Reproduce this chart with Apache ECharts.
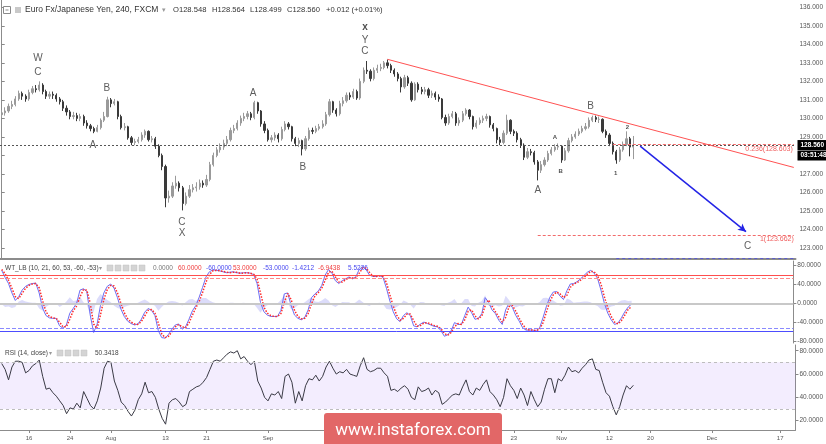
<!DOCTYPE html>
<html><head><meta charset="utf-8">
<script src="https://cdn.jsdelivr.net/npm/echarts@6/dist/echarts.min.js"></script>
<style>html,body{margin:0;padding:0;background:#fff}#c{width:826px;height:444px}</style>
</head><body><div id="c"></div>
<script>
// ---------- DATA ----------
// x axis: 12-hour slots over trading days (Mon-Fri), 2018-07-10 .. 2018-12-19
const slotStart = '2018-07-10', slotCount = 233;
// date tick labels (TradingView style)
const dateTicks = {'2018-07-16':'16','2018-07-24':'24','2018-08-01':'Aug','2018-08-13':'13','2018-08-21':'21',
  '2018-09-03':'Sep','2018-09-17':'17','2018-10-01':'Oct','2018-10-15':'15','2018-10-23':'23','2018-11-01':'Nov',
  '2018-11-12':'12','2018-11-20':'20','2018-12-03':'Dec','2018-12-17':'17'};
const priceTicks = [123,124,125,126,127,128,129,130,131,132,133,134,135,136];
const wtTicks = [-80,-40,0,40,80];
const rsiTicks = [20,40,60,80];

// EUR/JPY 12h bars
const firstOpen = 130.20;
const close = [
130.30,130.40,130.65,130.75,131.05,131.35,131.20,131.05,131.40,131.60,
131.55,131.80,131.45,131.20,131.30,131.25,131.05,130.90,130.55,130.35,
130.10,130.15,130.00,130.10,129.75,129.60,129.45,129.30,129.50,129.90,
130.10,131.00,130.80,130.90,130.10,129.50,129.55,128.95,128.70,128.75,
128.85,129.10,129.30,128.85,128.90,128.50,128.00,127.40,125.70,125.80,
126.35,126.50,126.25,125.40,125.80,126.15,126.25,126.30,126.50,126.40,
126.70,127.50,128.00,128.30,128.45,128.65,128.85,129.35,129.45,129.75,
130.00,130.10,130.25,130.05,130.85,130.40,129.70,129.35,128.85,128.95,
129.10,128.90,129.40,129.70,129.55,128.90,128.65,128.80,128.35,128.90,
129.35,129.30,129.45,129.55,129.70,130.20,130.90,130.45,130.25,130.80,
130.95,131.25,131.15,131.45,131.10,132.00,132.60,132.55,132.15,132.60,
132.70,132.75,133.00,132.85,132.60,132.40,132.15,131.70,132.20,131.90,
131.00,131.85,131.55,131.45,131.55,131.25,131.35,131.15,131.05,130.05,
129.75,130.10,130.25,129.75,129.90,130.25,130.45,130.10,129.55,129.75,
129.90,130.00,130.10,129.65,129.45,128.85,128.70,129.20,129.90,129.30,
129.20,128.85,128.55,127.90,128.20,128.15,127.65,127.20,127.50,127.75,
128.10,128.30,128.45,128.50,127.75,128.25,128.80,129.00,129.15,129.30,
129.45,129.55,129.90,130.05,129.95,129.95,129.30,129.10,128.65,128.20,
127.75,128.30,128.60,128.90,128.45,128.56];
const high = [
130.45,130.60,130.80,130.95,131.20,131.50,131.45,131.30,131.55,131.75,
131.80,132.00,131.90,131.55,131.45,131.45,131.35,131.15,131.00,130.70,
130.45,130.35,130.30,130.25,130.20,129.90,129.70,129.55,129.65,130.00,
130.35,131.17,131.10,131.05,130.95,130.20,129.75,129.60,129.05,128.90,
129.00,129.25,129.40,129.35,129.05,129.00,128.60,128.10,127.50,126.10,
126.55,126.90,126.60,126.35,126.00,126.40,126.45,126.55,126.70,126.65,
126.95,127.65,128.15,128.45,128.65,128.85,129.05,129.50,129.65,129.90,
130.15,130.30,130.40,130.35,130.95,130.90,130.45,129.85,129.45,129.10,
129.25,129.20,129.55,129.85,129.80,129.60,129.00,128.95,128.85,129.05,
129.50,129.50,129.60,129.70,129.90,130.35,131.05,130.95,130.55,130.95,
131.15,131.40,131.40,131.60,131.55,132.15,132.75,133.10,132.65,132.75,
132.90,132.95,133.10,133.18,132.95,132.70,132.50,132.25,132.35,132.30,
132.00,131.95,131.95,131.70,131.70,131.65,131.50,131.45,131.30,131.10,
130.20,130.25,130.40,130.35,130.05,130.40,130.55,130.50,130.15,129.90,
130.05,130.15,130.25,130.15,129.75,129.50,129.00,129.35,130.20,129.95,
129.40,129.30,128.95,128.65,128.40,128.35,128.25,127.75,127.70,127.90,
128.25,128.45,128.60,128.65,128.55,128.40,128.95,129.15,129.30,129.45,
129.60,129.75,130.05,130.15,130.15,130.10,130.00,129.40,129.20,128.75,
128.30,128.45,128.75,129.30,129.00,129.05];
const low = [
130.05,130.15,130.30,130.50,130.65,130.95,131.00,130.90,130.95,131.30,
131.40,131.45,131.30,131.05,131.05,131.05,130.90,130.75,130.40,130.15,
129.95,129.95,129.85,129.85,129.60,129.45,129.30,129.20,129.25,129.40,
129.80,130.05,130.60,130.70,129.95,129.40,129.35,128.85,128.55,128.55,
128.65,128.75,128.95,128.75,128.70,128.35,127.90,127.20,125.20,125.45,
125.70,126.20,126.05,125.03,125.30,125.70,126.00,126.05,126.15,126.25,
126.30,126.60,127.40,127.90,128.15,128.30,128.50,128.75,129.20,129.35,
129.60,129.85,129.95,129.90,129.95,130.25,129.55,129.20,128.75,128.70,
128.80,128.70,128.80,129.30,129.40,128.75,128.50,128.45,128.00,128.25,
128.80,129.15,129.20,129.35,129.45,129.60,130.10,130.30,130.10,130.15,
130.65,130.85,131.00,131.05,131.00,131.00,131.90,132.40,132.00,132.05,
132.45,132.55,132.65,132.70,132.45,132.25,132.00,131.40,131.60,131.75,
130.90,130.95,131.40,131.30,131.30,131.10,131.10,131.00,130.90,129.95,
129.60,129.65,130.00,129.60,129.60,129.80,130.15,129.95,129.40,129.45,
129.65,129.75,129.85,129.50,129.30,128.65,128.55,128.60,129.10,129.15,
129.05,128.70,128.40,127.75,127.80,128.00,127.50,126.65,127.05,127.40,
127.65,128.00,128.20,128.30,127.60,127.70,128.15,128.70,128.90,129.05,
129.20,129.35,129.45,129.80,129.80,129.75,129.20,128.95,128.50,128.05,
127.55,127.65,128.20,128.50,127.95,127.80];

// WT_LB indicator (wt1 blue, wt2 red dotted, wt1-wt2 histogram)
const wt1 = [
70,55,42,22,6,14,28,36,40,42,
43,22,-10,-26,-31,-32,-32,-48,-53,-46,
-21,-11,0,28,31,25,-25,-62,-45,-5,
22,36,41,32,12,-12,-28,-38,-43,-46,
-44,-34,-19,-11,-15,-26,-58,-73,-74,-66,
-55,-46,-44,-55,-50,-34,-16,-5,13,34,
56,67,71,70,69,67,65,66,67,65,
64,65,65,64,61,42,2,-18,-25,-28,
-28,-28,-15,20,22,-5,-25,-32,-35,-30,
-14,12,20,26,38,60,72,64,48,42,
48,52,56,52,56,72,78,72,60,57,
57,59,55,32,5,-18,-33,-39,-26,-20,
-26,-48,-50,-44,-40,-43,-46,-49,-50,-58,
-70,-67,-58,-41,-45,-45,-26,-8,-20,-34,
-32,-22,12,2,-14,-22,-36,-45,-14,0,
-9,-26,-38,-52,-57,-57,-57,-59,-52,-30,
-6,13,24,25,15,8,27,41,42,46,
52,59,66,70,64,53,28,0,-21,-35,
-45,-42,-31,-18,-8,-1.4212];
const wt2 = [
72,63,49,32,14,10,21,32,38,41,
42,33,6,-18,-28,-31,-32,-40,-50,-50,
-34,-16,-6,14,29,28,0,-44,-54,-25,
8,29,38,37,22,0,-20,-33,-40,-44,
-45,-39,-27,-15,-13,-21,-42,-65,-73,-70,
-60,-50,-45,-50,-52,-42,-25,-10,4,23,
45,61,69,70,69,68,66,65,66,66,
64,64,65,64,62,52,22,-8,-21,-26,
-28,-28,-22,2,21,8,-15,-28,-33,-32,
-22,-1,16,23,32,49,66,68,56,45,
45,50,54,54,54,64,75,75,66,58,
57,58,57,44,18,-6,-25,-36,-32,-23,
-23,-37,-49,-47,-42,-41,-44,-47,-49,-54,
-64,-68,-62,-50,-43,-45,-35,-17,-14,-27,
-33,-27,-5,7,-6,-18,-29,-40,-30,-7,
-5,-17,-32,-45,-54,-57,-57,-58,-55,-41,
-18,4,18,24,20,12,17,34,41,44,
49,55,62,68,67,59,41,14,-10,-28,
-40,-44,-37,-25,-13,-6.9438];
const wtDiff = [
-2,-8,-7,-10,-8,4,7,4,2,1,
1,-11,-16,-8,-3,-1,0,-8,-3,4,
13,5,6,14,2,-3,-25,-18,9,20,
14,7,3,-5,-10,-12,-8,-5,-3,-2,
1,5,8,4,-2,-5,-16,-8,-1,4,
5,4,1,-5,2,8,9,5,9,11,
11,6,2,0,0,-1,-1,1,1,-1,
0,1,0,0,-1,-10,-20,-10,-4,-2,
0,0,7,18,1,-13,-10,-4,-2,2,
8,13,4,3,6,11,6,-4,-8,-3,
3,2,2,-2,2,8,3,-3,-6,-1,
0,1,-2,-12,-13,-12,-8,-3,6,3,
-3,-11,-1,3,2,-2,-2,-2,-1,-4,
-6,1,4,9,-2,0,9,9,-6,-7,
1,5,17,-5,-8,-4,-7,-5,16,7,
-4,-9,-6,-7,-3,0,0,-1,3,11,
12,9,6,1,-5,-4,10,7,1,2,
3,4,4,2,-3,-6,-13,-14,-11,-7,
-5,2,6,7,5,5.5226];

// RSI(14, close)
const rsi = [
69,64,55,66,71,71,70,61,63,67,
69,72,58,47,48,44,41,37,33,26,
31,30,35,31,45,39,33,30,37,48,
65,71,70,54,46,36,33,28,24,29,
38,43,53,44,45,40,30,22,17,35,
38,39,36,32,34,45,47,49,50,53,
57,64,71,72,71,74,77,79,78,80,
73,75,71,68,71,54,48,40,37,43,
42,45,39,58,60,53,35,45,37,50,
56,55,59,54,58,66,71,65,60,62,
61,64,60,59,58,67,74,64,62,63,
65,65,61,58,46,47,45,48,50,47,
40,38,49,45,46,48,42,46,44,34,
36,39,42,43,42,49,55,45,42,48,
46,51,55,45,42,38,32,40,56,50,
46,39,48,42,33,45,38,32,36,47,
56,56,44,56,54,59,66,62,63,61,
65,68,72,73,64,63,53,44,41,32,
25,32,42,50,47,50.3418];

// Elliott wave annotations (slot index, price)
const waveText   = ['W','C','B','A','C','X','A','B','x','Y','C','A','A','B','B','1','2','C'];
const waveDegree = ['M','M','M','M','M','M','M','M','H','M','M','M','m','m','M','m','m','M'];
const waveSlot   = [10.6,10.6,30.8,26.7,52.8,52.8,73.6,88.2,106.4,106.4,106.4,157,162,163.7,172.5,179.8,183.3,218.5];
const wavePrice  = [133.26,132.51,131.64,128.56,124.40,123.81,131.37,127.37,134.94,134.23,133.64,126.13,129.00,127.16,130.67,127.05,129.53,123.11];

// drawn tools
const lastPrice = 128.56, timerLevel = 128.0;
const trendLine = [[113,133.19],[232,127.35]];
const arrowLine = [[187,128.50],[218,123.88]];
const fib236 = {from:179, to:232, price:128.603, text:'0.236(128.603)'};
const fib1 = {from:157, to:232, price:123.662, text:'1(123.662)'};
const lowerLevel = {from:180, to:232, price:122.43};

// ---------- BUILD ----------
function buildSlots(){
  const out=[]; let t=Date.UTC(2018,6,10);
  while(out.length<slotCount){
    const d=new Date(t), wd=d.getUTCDay();
    if(wd>0&&wd<6){const s=d.toISOString().slice(0,10); out.push(s+' 00'); out.push(s+' 12');}
    t+=86400000;
  }
  return out.slice(0,slotCount);
}
const slots = buildSlots();
const isTick = (i,v)=> v.endsWith(' 00') && dateTicks[v.slice(0,10)]!==undefined;
const ohlc = close.map((c,i)=>[i===0?firstOpen:close[i-1], c, low[i], high[i]]);

const axisFont = {fontFamily:'Liberation Sans', fontSize:6.5, color:'#555'};
const sepLine = {show:true, lineStyle:{color:'#8c8c8c', width:2}};

const degreeStyle = {
  M:{fontSize:10, fontWeight:'normal', color:'#333'},
  m:{fontSize:6, fontWeight:'bold', color:'#222'},
  H:{fontSize:10, fontWeight:'bold', color:'#222'}
};
const waveData = waveText.map((t,i)=>({value:[waveSlot[i], wavePrice[i]], name:t,
  label:Object.assign({show:true, formatter:t, position:'inside', fontFamily:'Liberation Sans'}, degreeStyle[waveDegree[i]])}));

const chart = echarts.init(document.getElementById('c'), null, {renderer:'canvas'});
const hdrFont = '8.5px "Liberation Sans"';
const ohlcFont = '7.6px "Liberation Sans"';
const indFont = '6.5px "Liberation Sans"';
function txt(x,y,text,fill,font){return {type:'text', x:x, y:y, z:50, style:{text:text, fill:fill, font:font||indFont, verticalAlign:'middle'}};}
function icon(x,y){return {type:'rect', z:50, shape:{x:x,y:y,width:6,height:6}, style:{fill:'#d4d4d4', stroke:'#c0c0c0', lineWidth:0.5}};}
const boxLabel = {show:true, position:'end', distance:2, backgroundColor:'#000', color:'#fff',
  fontFamily:'Liberation Sans', fontSize:6.5, fontWeight:'bold', padding:[2,3,1,3]};

chart.setOption({
  animation:false,
  backgroundColor:'#fff',
  grid:[
    {left:0, top:0, width:796, height:259},
    {left:0, top:261, width:796, height:82},
    {left:0, top:345, width:796, height:85}
  ],
  xAxis:[
    {type:'category', gridIndex:0, data:slots, boundaryGap:true, axisLine:sepLine, axisTick:{show:false}, axisLabel:{show:false}, splitLine:{show:false}},
    {type:'value', gridIndex:0, min:-0.5, max:slotCount-0.5, show:false},
    {type:'category', gridIndex:1, data:slots, boundaryGap:true, axisLine:sepLine, axisTick:{show:false}, axisLabel:{show:false}, splitLine:{show:false}},
    {type:'category', gridIndex:2, data:slots, boundaryGap:true,
      axisLine:{show:true, lineStyle:{color:'#8c8c8c', width:1}},
      axisTick:{show:true, interval:isTick, alignWithLabel:true, length:3, lineStyle:{color:'#888'}},
      axisLabel:Object.assign({interval:isTick, formatter:(v)=>dateTicks[v.slice(0,10)]||'', margin:5}, axisFont, {fontSize:6}),
      splitLine:{show:false}}
  ],
  yAxis:[
    {type:'value', gridIndex:0, position:'right', min:122.405, max:136.394,
      axisLine:{show:true, lineStyle:{color:'#8c8c8c'}}, axisTick:{show:true, length:3, customValues:priceTicks, lineStyle:{color:'#888'}},
      axisLabel:Object.assign({customValues:priceTicks, formatter:v=>v.toFixed(3), margin:4}, axisFont), splitLine:{show:false}},
    {type:'value', gridIndex:1, position:'right', min:-84.4, max:89.9,
      axisLine:{show:true, lineStyle:{color:'#8c8c8c'}}, axisTick:{show:true, length:3, customValues:wtTicks, lineStyle:{color:'#888'}},
      axisLabel:Object.assign({customValues:wtTicks, formatter:v=>v.toFixed(4), margin:4}, axisFont), splitLine:{show:false}},
    {type:'value', gridIndex:2, position:'right', min:12.03, max:84.89,
      axisLine:{show:true, lineStyle:{color:'#8c8c8c'}}, axisTick:{show:true, length:3, customValues:rsiTicks, lineStyle:{color:'#888'}},
      axisLabel:Object.assign({customValues:rsiTicks, formatter:v=>v.toFixed(4), margin:4}, axisFont), splitLine:{show:false}}
  ],
  series:[
    {type:'candlestick', xAxisIndex:0, yAxisIndex:0, data:ohlc, barMaxWidth:2,
      itemStyle:{color:'#9a9a9a', color0:'#3a3a3a', borderColor:'#9a9a9a', borderColor0:'#3a3a3a', borderWidth:1},
      markLine:{silent:true, symbol:'none', animation:false, label:{show:false},
        data:[
          {yAxis:lastPrice, lineStyle:{color:'#555', type:[2,2], width:1},
            label:Object.assign({formatter:lastPrice.toFixed(3)}, boxLabel)},
          {yAxis:timerLevel, lineStyle:{color:'rgba(0,0,0,0)', width:0.1},
            label:Object.assign({formatter:'03:51:48'}, boxLabel)},
          [{coord:[fib236.from,fib236.price], lineStyle:{color:'#f26b6b', type:[3,2], width:1},
            label:{show:true, position:'insideEndBottom', formatter:fib236.text, color:'#f06060', fontFamily:'Liberation Sans', fontSize:7, distance:1}},
           {coord:[fib236.to,fib236.price]}],
          [{coord:[fib1.from,fib1.price], lineStyle:{color:'#f26b6b', type:[3,2], width:1},
            label:{show:true, position:'insideEndBottom', formatter:fib1.text, color:'#f06060', fontFamily:'Liberation Sans', fontSize:7, distance:0}},
           {coord:[fib1.to,fib1.price]}],
          [{coord:trendLine[0], lineStyle:{color:'#ff5252', type:'solid', width:1}}, {coord:trendLine[1]}],
          [{coord:arrowLine[0], lineStyle:{color:'#2323e6', type:'solid', width:1.5}}, {coord:arrowLine[1], symbol:'arrow', symbolSize:[6,8]}],
          [{coord:[lowerLevel.from,lowerLevel.price], lineStyle:{color:'#5b5bcf', type:[3,3], width:1}}, {coord:[lowerLevel.to,lowerLevel.price]}]
        ]}
    },
    {type:'scatter', xAxisIndex:1, yAxisIndex:0, symbolSize:0, data:waveData, silent:true, z:5},
    {type:'line', xAxisIndex:2, yAxisIndex:1, data:wtDiff, symbol:'none', lineStyle:{width:0},
      areaStyle:{color:'rgba(110,110,235,0.35)', origin:0}, z:1},
    {type:'line', xAxisIndex:2, yAxisIndex:1, data:wt1, symbol:'none', lineStyle:{color:'#6e6ef5', width:1}, z:3,
      markLine:{silent:true, symbol:'none', label:{show:false}, animation:false,
        data:[
          {yAxis:60, lineStyle:{color:'#ff4d4d', type:'solid', width:1}},
          {yAxis:53, lineStyle:{color:'#ff8a8a', type:[4,2], width:1}},
          {yAxis:0, lineStyle:{color:'#c8c8c8', type:'solid', width:2}},
          {yAxis:-53, lineStyle:{color:'#8a8aff', type:[4,2], width:1}},
          {yAxis:-60, lineStyle:{color:'#4d4dff', type:'solid', width:1}}
        ]}},
    {type:'line', xAxisIndex:2, yAxisIndex:1, data:wt2, symbol:'none', lineStyle:{color:'#ff2b2b', type:'dotted', width:1.5}, z:4},
    {type:'line', xAxisIndex:3, yAxisIndex:2, data:rsi, symbol:'none', lineStyle:{color:'#3a3a45', width:1}, z:3,
      markArea:{silent:true, itemStyle:{color:'rgba(160,110,245,0.12)'}, data:[[{yAxis:30},{yAxis:70}]]},
      markLine:{silent:true, symbol:'none', label:{show:false}, animation:false,
        data:[{yAxis:70, lineStyle:{color:'#bdbdbd', type:[3,3], width:1}}, {yAxis:30, lineStyle:{color:'#bdbdbd', type:[3,3], width:1}}]}}
  ],
  graphic:[
    {type:'rect', z:50, shape:{x:3.5,y:6.5,width:7,height:7}, style:{fill:'#fff', stroke:'#8a8a8a', lineWidth:1}},
    {type:'line', z:51, shape:{x1:5.5,y1:10,x2:8.5,y2:10}, style:{stroke:'#8a8a8a', lineWidth:1}},
    {type:'rect', z:50, shape:{x:15,y:7,width:6,height:6}, style:{fill:'#c9c9c9'}},
    txt(25,10,'Euro Fx/Japanese Yen, 240, FXCM','#333',hdrFont),
    txt(162,10,'\u25be','#999','7px "DejaVu Sans"'),
    txt(173,10,'O128.548','#333',ohlcFont),
    txt(212,10,'H128.564','#333',ohlcFont),
    txt(250,10,'L128.499','#333',ohlcFont),
    txt(287,10,'C128.560','#333',ohlcFont),
    txt(326,10,'+0.012 (+0.01%)','#333',ohlcFont),

    txt(5,268,'WT_LB (10, 21, 60, 53, -60, -53)','#444'),
    txt(99,268,'\u25be','#999','6px "DejaVu Sans"'),
    icon(107,265), icon(115,265), icon(123,265), icon(131,265), icon(139,265),
    txt(153,268,'0.0000','#777'),
    txt(178,268,'60.0000','#f03c3c'),
    txt(206,268,'-60.0000','#4848f0'),
    txt(233,268,'53.0000','#f03c3c'),
    txt(263,268,'-53.0000','#4848f0'),
    txt(292,268,'-1.4212','#4848f0'),
    txt(318,268,'-6.9438','#f03c3c'),
    txt(348,268,'5.5226','#4848f0'),

    txt(5,353,'RSI (14, close)','#444'),
    txt(49,353,'\u25be','#999','6px "DejaVu Sans"'),
    icon(57,350), icon(65,350), icon(73,350), icon(81,350),
    txt(95,353,'50.3418','#444'),

    {type:'rect', z:100, shape:{x:324,y:413,width:178,height:40,r:3}, style:{fill:'#e26767'}},
    {type:'text', z:101, x:413, y:431, style:{text:'www.instaforex.com', fill:'#fff', font:'17px Roboto', align:'center', verticalAlign:'middle'}}
  ]
});
</script>
</body></html>
